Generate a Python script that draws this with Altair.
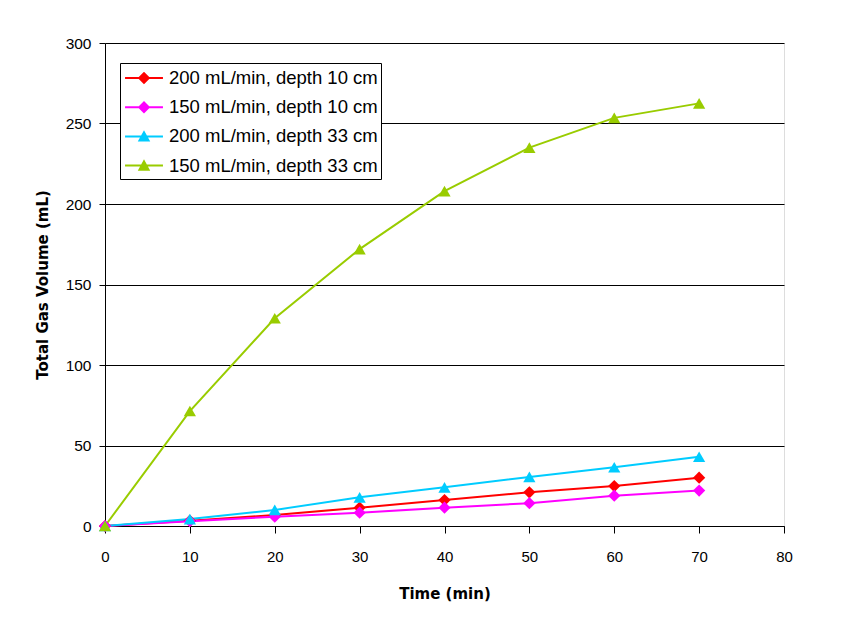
import altair as alt
import pandas as pd

times = [0, 10, 20, 30, 40, 50, 60, 70]
series_names = [
    "200 mL/min, depth 10 cm",
    "150 mL/min, depth 10 cm",
    "200 mL/min, depth 33 cm",
    "150 mL/min, depth 33 cm",
]
v_200_10 = [0, 3.3, 6.8, 11.4, 16.1, 20.9, 24.8, 30.0]
v_150_10 = [0, 3.0, 5.8, 8.3, 11.4, 14.2, 18.8, 22.0]
v_200_33 = [0, 4.3, 10.0, 17.8, 24.0, 30.5, 36.5, 43.0]
v_150_33 = [0, 71.4, 129.0, 172.0, 208.0, 235.0, 253.5, 262.5]
colors = ["#FF0000", "#FF00FF", "#00CCFF", "#99CC00"]
shapes = ["diamond", "diamond", "triangle-up", "triangle-up"]

# legend symbols: a short line segment with the marker on it
LINE = "M-0.83,-0.085H2.33V0.085H-0.83Z"
DIAM = "M0.75,-0.52L1.27,0L0.75,0.52L0.23,0Z"
TRI = "M0.75,-0.52L1.27,0.43L0.23,0.43Z"
legend_shapes = [LINE + DIAM, LINE + DIAM, LINE + TRI, LINE + TRI]

rows = []
for name, shp, vals in zip(series_names, shapes, [v_200_10, v_150_10, v_200_33, v_150_33]):
    for t, v in zip(times, vals):
        rows.append({"Series": name, "Marker": shp, "Time": t, "Volume": v})
df = pd.DataFrame(rows)

FONT = "Liberation Sans"

x = alt.X("Time:Q", title="Time (min)",
          scale=alt.Scale(domain=[0, 80], nice=False),
          axis=alt.Axis(values=list(range(0, 81, 10)), grid=False, tickColor="black",
                        domainColor="black", labelFontSize=15, titleFontSize=15,
                        titleFontWeight="bold", labelColor="black", titleColor="black",
                        labelPadding=16, titlePadding=22, tickSize=7,
                        labelFont=FONT, titleFont="DejaVu Sans", labelFlush=False))
y = alt.Y("Volume:Q", title="Total Gas Volume (mL)",
          scale=alt.Scale(domain=[0, 300], nice=False),
          axis=alt.Axis(values=list(range(0, 301, 50)), grid=True, gridColor="black",
                        gridOpacity=1, tickColor="black", domainColor="black",
                        labelFontSize=15.5, titleFontSize=15, titleFontWeight="bold",
                        labelColor="black", titleColor="black", labelPadding=8,
                        titlePadding=15, tickSize=6, labelFont=FONT,
                        titleFont="DejaVu Sans"))

color_scale = alt.Scale(domain=series_names, range=colors)
legend = alt.Legend(title=None, orient="none", legendX=15, legendY=20,
                    fillColor="white", strokeColor="black",
                    padding=3, labelFontSize=18.5, labelFont=FONT, labelLimit=400,
                    labelColor="black", symbolSize=576,
                    symbolStrokeWidth=0, labelOffset=22, rowPadding=7.2)
color = alt.Color("Series:N", scale=color_scale, sort=series_names, legend=legend)

base = alt.Chart(df)
legend_layer = base.transform_filter("false").mark_point(filled=True, opacity=1).encode(
    x=x, y=y, color=color,
    shape=alt.Shape("Series:N", scale=alt.Scale(domain=series_names, range=legend_shapes),
                    sort=series_names, legend=legend))
lines = base.mark_line(strokeWidth=2).encode(x=x, y=y, color=color)
points = base.mark_point(filled=True, size=150, opacity=1).encode(
    x=x, y=y, color=color, shape=alt.Shape("Marker:N", scale=None))

chart = alt.layer(legend_layer, lines, points).properties(
    width=679, height=483,
    autosize=alt.AutoSizeParams(type="none"),
    padding={"left": 97, "top": 35, "right": 45, "bottom": 85},
).configure_view(stroke="black", strokeWidth=1).configure(background="white")

chart.save("out.html", embed_options={"renderer": "svg", "actions": False})
